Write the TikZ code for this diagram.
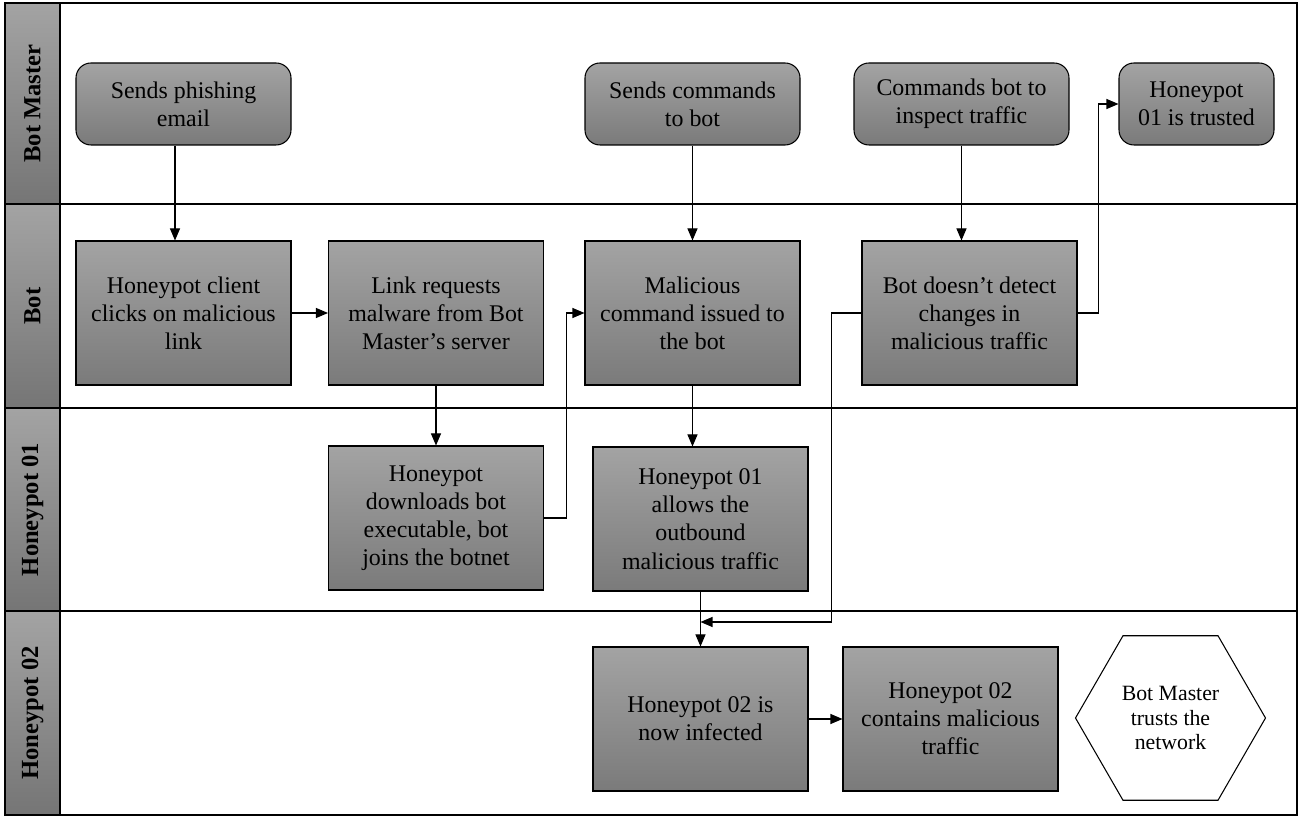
\documentclass[tikz,border=0pt]{standalone}
\usepackage{fontspec}
\setmainfont{Liberation Serif}
\usepackage{tikz}
\usetikzlibrary{arrows.meta,positioning,shapes.geometric}
\tikzstyle{lanebox} = [rectangle, draw=black, line width=1.6pt, minimum width=24.74cm, inner sep=0pt]
\tikzstyle{lanehead} = [rectangle, draw=black, line width=0.7pt, minimum width=1.1cm, inner sep=0pt, top color=black!36, bottom color=black!54]
\tikzstyle{lanetitle} = [rotate=90, font=\fontsize{14}{16}\selectfont\bfseries]
\tikzstyle{event} = [rectangle, rounded corners=3mm, draw=black, line width=0.6pt, minimum width=4.3cm, minimum height=1.64cm, align=center, top color=black!36, bottom color=black!52, font=\fontsize{13.6}{16}\selectfont]
\tikzstyle{task} = [rectangle, draw=black, line width=0.6pt, minimum width=4.3cm, minimum height=2.88cm, align=center, top color=black!36, bottom color=black!52, font=\fontsize{13.6}{16}\selectfont]
\tikzstyle{outcome} = [regular polygon, regular polygon sides=6, draw=black, line width=0.6pt, minimum size=3.8cm, inner sep=0pt, align=center, font=\fontsize{12.4}{14.2}\selectfont]
\tikzstyle{arrow} = [-{Triangle[length=2.4mm, width=2mm]}, line width=0.6pt]

\begin{document}
\begin{tikzpicture}[x=0.2mm, y=-0.2mm]
\useasboundingbox (0,0) rectangle (1300,820);
% swim lanes
\node[lanebox, minimum height=4.02cm] (bmlane) at (678.5,103.5) {};
\node[lanebox, minimum height=4.08cm] (botlane) at (678.5,306) {};
\node[lanebox, minimum height=4.06cm] (hponelane) at (678.5,509.5) {};
\node[lanebox, minimum height=4.08cm] (hptwolane) at (678.5,713) {};
\node[lanehead, minimum height=4.02cm] (bmhead) at (32.5,103.5) {};
\node[lanehead, minimum height=4.08cm] (bothead) at (32.5,306) {};
\node[lanehead, minimum height=4.06cm] (hponehead) at (32.5,509.5) {};
\node[lanehead, minimum height=4.08cm] (hptwohead) at (32.5,713) {};
\node[lanetitle] (bmtitle) at (bmhead) {Bot Master};
\node[lanetitle] (bottitle) at (bothead) {Bot};
\node[lanetitle] (hponetitle) at (hponehead) {Honeypot 01};
\node[lanetitle] (hptwotitle) at (hptwohead) {Honeypot 02};

% Bot Master
\node[event] (phish) at (183.5,104) {Sends phishing\\email};
\node[event] (sendcmd) at (692.5,104) {Sends commands\\to bot};
\node[event] (inspect) at (961.5,104) {Commands bot to\\inspect traffic};
\node[event, minimum width=3.1cm] (trusted) at (1196.5,104) {Honeypot\\01 is trusted};

% Bot
\node[task] (clicks) at (183.5,313) {Honeypot client\\clicks on malicious\\link};
\node[task] (linkreq) at (436,313) {Link requests\\malware from Bot\\Master's server};
\node[task] (malcmd) at (692.5,313) {Malicious\\command issued to\\the bot};
\node[task] (nodetect) at (969.5,313) {Bot doesn't detect\\changes in\\malicious traffic};

% Honeypot 01
\node[task] (download) at (436,518) {Honeypot\\downloads bot\\executable, bot\\joins the botnet};
\node[task] (allows) at (700.5,519) {Honeypot 01\\allows the\\outbound\\malicious traffic};

% Honeypot 02
\node[task] (infected) at (700.5,719) {Honeypot 02 is\\now infected};
\node[task] (contains) at (950.5,719) {Honeypot 02\\contains malicious\\traffic};
\node[outcome] (netrust) at (1170.5,718) {Bot Master\\trusts the\\network};
\coordinate (join) at (700.5,622);

\draw[arrow] ([xshift=-1.7mm]phish.south) -- ([xshift=-1.7mm]clicks.north);
\draw[arrow] (clicks) -- (linkreq);
\draw[arrow] (linkreq) -- (download);
\draw[arrow] (download.east) -- ++(22,0) |- (malcmd.west);
\draw[arrow] (sendcmd) -- (malcmd);
\draw[arrow] (malcmd.south) -- (malcmd.south |- allows.north);
\draw[arrow] (allows) -- (infected);
\draw[arrow] (inspect.south) -- (inspect.south |- nodetect.north);
\draw[arrow] (nodetect.west) -- ++(-30,0) |- (join);
\draw[arrow] (nodetect.east) -- ++(21,0) |- (trusted.west);
\draw[arrow] (infected) -- (contains);
\end{tikzpicture}
\end{document}
